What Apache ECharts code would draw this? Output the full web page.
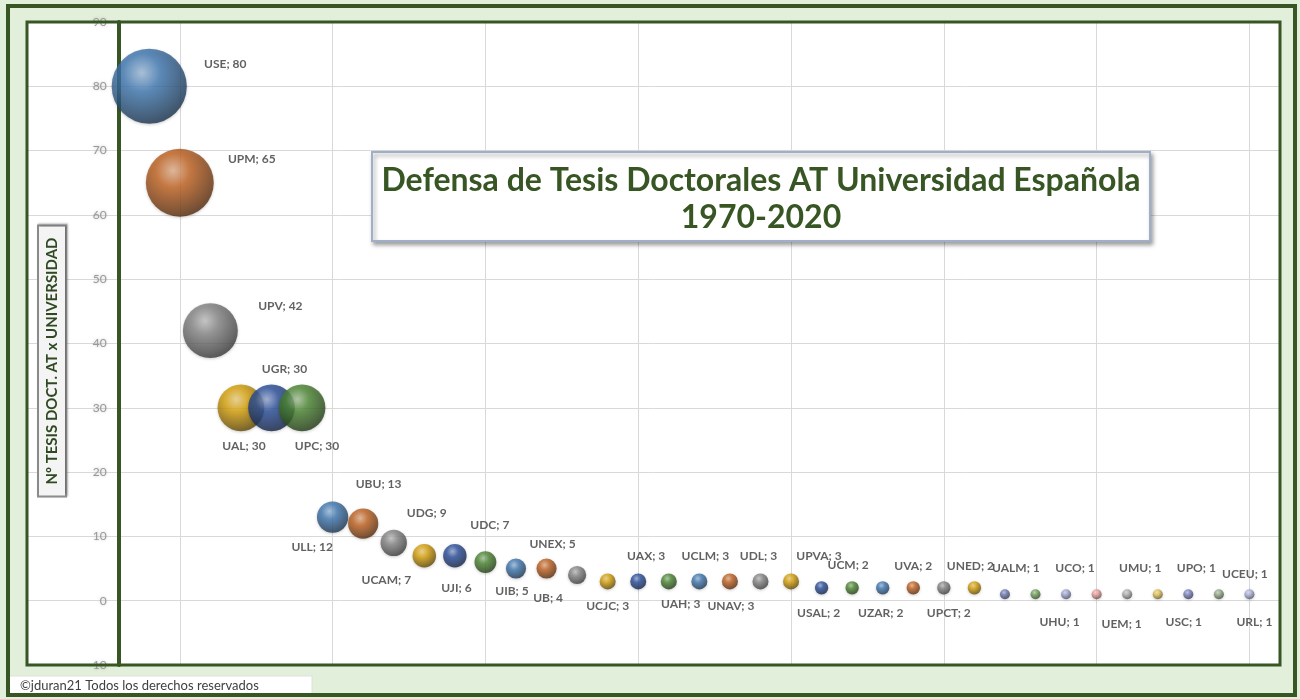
<!DOCTYPE html>
<html>
<head>
<meta charset="utf-8">
<script src="https://cdn.jsdelivr.net/npm/echarts@6/dist/echarts.min.js"></script>
<style>
html,body{margin:0;padding:0;background:#e2efda;}
#chart{width:1300px;height:699px;}
</style>
</head>
<body>
<div id="chart"></div>
<script>
// ---- data ----
const universities = ['USE','UPM','UPV','UAL','UGR','UPC','UBU','ULL','UDG','UCAM','UDC','UJI','UIB','UNEX','UB','UCJC','UAX','UAH','UCLM','UNAV','UDL','UPVA','USAL','UCM','UZAR','UVA','UPCT','UNED','UALM','UHU','UCO','UEM','UMU','USC','UPO','UCEU','URL'];
const tesis = [80,65,42,30,30,30,13,12,9,7,7,6,5,5,4,3,3,3,3,3,3,3,2,2,2,2,2,2,1,1,1,1,1,1,1,1,1];
const yTicks = [-10,0,10,20,30,40,50,60,70,80,90];
const xRange = [-3,38];
const titleLines = ['Defensa de Tesis Doctorales AT Universidad Española','1970-2020'];
const yAxisTitle = 'Nº TESIS DOCT. AT x UNIVERSIDAD';
const footer = '©jduran21 Todos los derechos reservados';

// ---- style ----
const baseColors = ['#3f78b2','#c2621f','#858585','#d9a208','#2a4f9c','#4c8732'];
const lightColors = ['#6f7bb4','#72a25a','#a0a6d6','#eea09c','#b0b0b0','#e6c455','#7b82c0','#95aa86','#b0b6de'];
const labelOffsets = [[76,-22],[72,-24],[70,-25],[3,38],[13,-39],[15,38],[46,-33],[-51,24],[33,-30],[-38,24],[35,-31],[-29,26],[-4,23],[6,-24],[-29,23],[0,25],[8,-25],[12,23],[6,-25],[1,25],[-2,-25],[28,-25],[-3,25],[-4,-23],[-2,25],[0,-22],[5,25],[-4,-22],[11,-26],[24,28],[9,-26],[25,30],[13,-26],[26,28],[8,-26],[26,-20],[5,28]];

const GRID_LEFT = 27, GRID_RIGHT = 20, GRID_TOP = 22, GRID_BOTTOM = 34;
const plotW = 1300 - GRID_LEFT - GRID_RIGHT;
const plotH = 699 - GRID_TOP - GRID_BOTTOM;
const yAxisOffset = -plotW * (0 - xRange[0]) / (xRange[1] - xRange[0]);

function shade(hex, f){
  const n=parseInt(hex.slice(1),16);
  let r=(n>>16)&255,g=(n>>8)&255,b=n&255;
  if(f>=0){r=r+(255-r)*f;g=g+(255-g)*f;b=b+(255-b)*f;}
  else{r=r*(1+f);g=g*(1+f);b=b*(1+f);}
  return 'rgb('+Math.round(r)+','+Math.round(g)+','+Math.round(b)+')';
}
function sphere(c){
  return new echarts.graphic.RadialGradient(0.4,0.32,0.72,[
    {offset:0,color:shade(c,0.5)},
    {offset:0.35,color:c},
    {offset:0.8,color:shade(c,-0.4)},
    {offset:1,color:shade(c,-0.6)}
  ]);
}

const seriesData = universities.map((u,i)=>{
  const c = i < 28 ? baseColors[i%6] : lightColors[i-28];
  return {
    name:u,
    value:[i+1, tesis[i]],
    itemStyle:{color:sphere(c)},
    label:{offset:labelOffsets[i]}
  };
});

const chart = echarts.init(document.getElementById('chart'));
chart.setOption({
  backgroundColor:'#e2efda',
  animation:false,
  grid:{left:GRID_LEFT,right:GRID_RIGHT,top:GRID_TOP,bottom:GRID_BOTTOM,show:true,backgroundColor:'#ffffff',borderWidth:0,containLabel:false,outerBoundsMode:'none'},
  xAxis:{type:'value',min:xRange[0],max:xRange[1],interval:5,
    axisLine:{show:false},axisTick:{show:false},axisLabel:{show:false},
    splitLine:{show:true,lineStyle:{color:'#d9d9d9',width:1}}},
  yAxis:{type:'value',min:yTicks[0],max:yTicks[yTicks.length-1],interval:10,
    position:'left',offset:yAxisOffset,
    axisLine:{show:true,onZero:false,lineStyle:{color:'#375623',width:4}},
    axisTick:{show:false},
    axisLabel:{margin:12,color:'#999999',fontSize:12,fontFamily:'Lato',
      textShadowColor:'rgba(160,160,160,0.6)',textShadowBlur:3},
    splitLine:{show:true,lineStyle:{color:'#d9d9d9',width:1}}},
  series:[{
    type:'scatter',
    data:seriesData,
    symbolSize:(v)=>8.2*Math.sqrt(v[1])+1.8,
    itemStyle:{shadowColor:'rgba(0,0,0,0.25)',shadowBlur:3,shadowOffsetY:1},
    label:{show:true,position:'inside',
      formatter:(p)=>p.name+'; '+p.value[1],
      color:'#3a3a3a',fontWeight:'bold',fontSize:12,fontFamily:'Lato'},
    z:3
  }],
  graphic:[
    {type:'rect',shape:{x:GRID_LEFT,y:GRID_TOP,width:plotW,height:plotH},style:{fill:'none',stroke:'#375623',lineWidth:3},z:45,silent:true},
    {type:'rect',shape:{x:8,y:6,width:1287,height:689},style:{fill:'none',stroke:'#375623',lineWidth:4},z:50,silent:true},
    {type:'rect',shape:{x:372,y:152,width:778,height:89},
      style:{fill:'#ffffff',stroke:'#9fb0c6',lineWidth:2,shadowColor:'rgba(0,0,0,0.35)',shadowBlur:4,shadowOffsetX:2,shadowOffsetY:3},z:20},
    {type:'text',x:761,y:199,z:21,
      style:{text:titleLines.join('\n'),align:'center',verticalAlign:'middle',
        font:'bold 32px Lato',fill:'#375623',lineHeight:37}},
    {type:'text',x:52,y:361,rotation:Math.PI/2,z:21,
      style:{text:yAxisTitle,align:'center',verticalAlign:'middle',
        font:'bold 15px Lato',fill:'#2f4a22',
        backgroundColor:'#f4f4f4',borderColor:'#8c8c8c',borderWidth:2,padding:[6,11,5,11],
        shadowColor:'rgba(0,0,0,0.3)',shadowBlur:2,shadowOffsetX:1,shadowOffsetY:-1}},
    {type:'rect',shape:{x:9,y:676,width:303,height:19},style:{fill:'#ffffff',stroke:'#e0e0e0',lineWidth:1},z:40},
    {type:'text',x:20,y:686,z:55,
      style:{text:footer,align:'left',verticalAlign:'middle',font:'13px Lato',fill:'#404040'}}
  ]
});
</script>
</body>
</html>
